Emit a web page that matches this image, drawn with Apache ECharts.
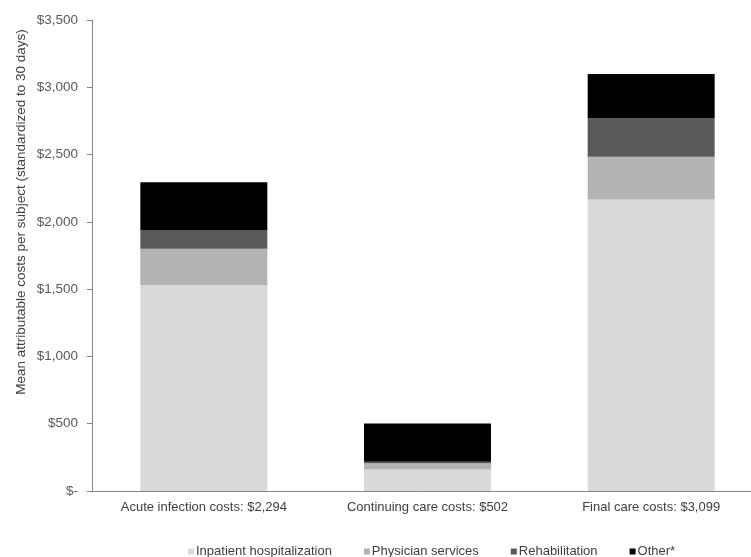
<!DOCTYPE html>
<html>
<head>
<meta charset="utf-8">
<script src="https://cdn.jsdelivr.net/npm/echarts@6/dist/echarts.min.js"></script>
<style>
  html, body { margin: 0; padding: 0; background: #fff; }
  #chart { width: 751px; height: 557px; }
</style>
</head>
<body>
<div id="chart"></div>
<script>
// Cost phases (x categories)
const categories = [
  'Acute infection costs: $2,294',
  'Continuing care costs: $502',
  'Final care costs: $3,099'
];

// Cost components per phase, in dollars (stacked)
const inpatient = [1528, 160, 2167];
const physician = [272, 46, 317];
const rehabilitation = [139, 12, 285];
const other = [355, 284, 330];

const seriesNames = ['Inpatient hospitalization', 'Physician services', 'Rehabilitation', 'Other*'];
const seriesColors = ['#d9d9d9', '#b3b3b3', '#595959', '#000000'];
const seriesData = [inpatient, physician, rehabilitation, other];

const yTicks = [0, 500, 1000, 1500, 2000, 2500, 3000, 3500];

const fontFamily = 'Liberation Sans, Arial, sans-serif';

function money(v) {
  if (v === 0) return '$-';
  return '$' + v.toLocaleString('en-US');
}

const chart = echarts.init(document.getElementById('chart'), null, { renderer: 'canvas' });

chart.setOption({
  animation: false,
  backgroundColor: '#ffffff',
  // plot area runs past the right edge of the canvas
  grid: { left: 92, width: 671, top: 20, bottom: 66, containLabel: false, outerBoundsMode: 'none' },
  legend: {
    data: seriesNames,
    top: 540,
    left: 183,
    itemWidth: 6,
    itemHeight: 6,
    itemGap: 32,
    icon: 'rect',
    textStyle: { fontFamily, fontSize: 13, color: '#404040', padding: [0, 0, 0, -3] }
  },
  xAxis: {
    type: 'category',
    data: categories,
    axisLine: { show: true, lineStyle: { color: '#868686', width: 1 } },
    axisTick: { show: false },
    axisLabel: { fontFamily, fontSize: 13, color: '#404040', margin: 10 }
  },
  yAxis: {
    type: 'value',
    min: 0,
    max: yTicks[yTicks.length - 1],
    interval: 500,
    splitLine: { show: false },
    axisLine: { show: true, lineStyle: { color: '#868686', width: 1 } },
    axisTick: { show: true, length: 5, lineStyle: { color: '#868686' } },
    axisLabel: {
      fontFamily, fontSize: 13.5, color: '#595959', margin: 14,
      formatter: money
    }
  },
  graphic: [{
    type: 'text',
    x: 21,
    y: 212,
    rotation: Math.PI / 2,
    style: {
      text: 'Mean attributable costs per subject (standardized to 30 days)',
      fontFamily,
      fontSize: 13.5,
      fill: '#404040',
      align: 'center',
      verticalAlign: 'middle'
    }
  }],
  series: seriesData.map((d, i) => ({
    name: seriesNames[i],
    type: 'bar',
    stack: 'cost',
    data: d,
    barWidth: 127,
    itemStyle: { color: seriesColors[i] }
  }))
});
</script>
</body>
</html>
